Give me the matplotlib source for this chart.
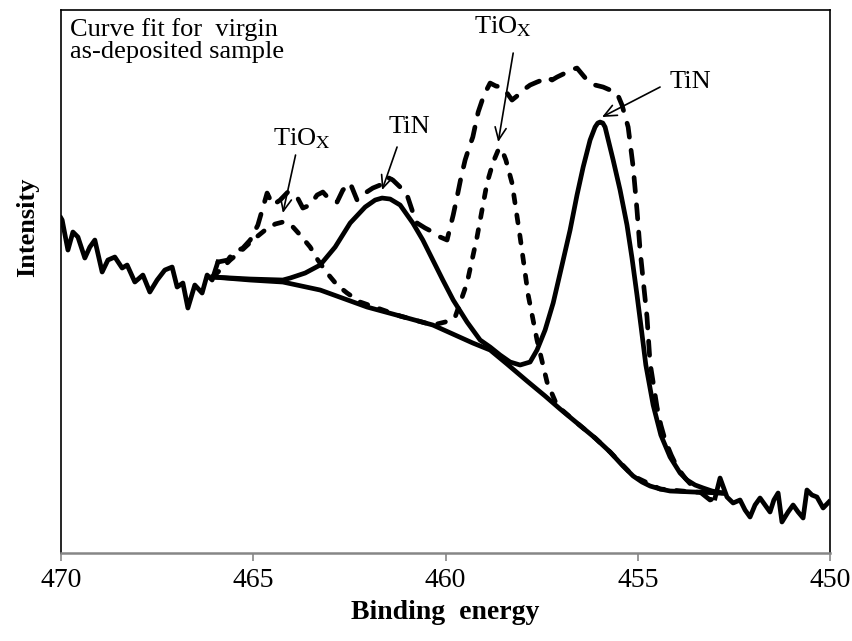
import matplotlib.pyplot as plt
import numpy as np

plt.rcParams['font.family'] = ['Liberation Serif', 'DejaVu Serif']
plt.rcParams['mathtext.fontset'] = 'stix'

# raw spectrum (binding energy in eV, intensity in arb. units)
raw_be = [470.00, 469.97, 469.82, 469.69, 469.56, 469.38, 469.25, 469.12, 468.93, 468.78,
          468.60, 468.41, 468.28, 468.08, 467.87, 467.69, 467.50, 467.30, 467.11, 466.98,
          466.83, 466.70, 466.52, 466.33, 466.20, 466.07, 465.92,
          465.66, 465.53, 465.27, 465.08, 464.88, 464.64, 464.49, 464.30, 464.10, 463.86,
          463.71, 463.52, 463.34, 463.19, 463.00, 462.82, 462.67, 462.48, 462.30, 462.09,
          461.89, 461.70, 461.52, 461.37, 461.18, 461.00, 460.87, 460.74, 460.53, 460.33,
          460.14, 459.96, 459.80, 459.70, 459.60, 459.49, 459.39, 459.29, 459.15, 459.00,
          458.84, 458.69, 458.53, 458.40, 458.27, 458.11, 457.98, 457.80, 457.62, 457.49,
          457.36, 457.23, 457.10, 456.94, 456.76, 456.58, 456.45, 456.32, 456.11, 455.90,
          455.72, 455.54, 455.41, 455.25, 455.12, 455.02, 454.94, 454.86, 454.76, 454.68,
          454.63, 454.50, 454.40, 454.29, 454.13, 453.98, 453.77, 453.56, 453.38, 453.12,
          452.99,
          452.86, 452.68, 452.52, 452.34, 452.21, 452.08, 451.95, 451.82, 451.69, 451.56,
          451.46, 451.35, 451.25, 451.09, 450.96, 450.83, 450.70, 450.60, 450.47, 450.34,
          450.18, 450.03]
raw_int = [335, 333, 303, 321, 316, 295, 306, 313, 281, 293,
           296, 285, 288, 271, 278, 261, 273, 283, 286, 266,
           270, 245, 268, 260, 278, 273, 291,
           293, 300, 305, 313, 328, 360, 348, 353, 361, 356,
           345, 348, 358, 361, 353, 351, 363, 370, 353, 360,
           365, 368, 376, 373, 366, 358, 343, 330, 325, 321,
           316, 313, 338, 356, 375, 393, 405, 416, 441, 458,
           470, 467, 466, 460, 453, 458, 463, 468, 471, 473,
           476, 473, 476, 479, 483, 485, 479, 473, 468, 466,
           463, 460, 448, 426, 386, 343, 303, 273, 236, 190,
           178, 146, 128, 113, 98, 86, 75, 66, 61, 53,
           55,
           75, 56, 50, 53, 43, 36, 48, 55, 48, 41,
           53, 60, 31, 41, 48, 41, 35, 63, 58, 56,
           45, 51]

# Shirley-type background
bg_be = [466.05, 465.08, 464.23, 463.26, 462.04, 461.18, 460.33, 459.29, 458.84, 458.40,
         457.88, 457.41, 457.02, 456.58, 456.11, 455.72, 455.41, 455.12, 454.89, 454.68,
         454.42, 454.16, 453.56, 452.81]
bg_int = [276, 273, 271, 263, 246, 237, 228, 210, 203, 189,
          172, 157, 144, 130, 115, 101, 88, 77, 71, 67,
          64, 62, 61, 60]

# TiN component (2p3/2 + 2p1/2) on background
tin_be = [466.05, 465.08, 464.23, 464.04, 463.65, 463.26, 462.87, 462.48, 462.09, 461.83,
          461.65, 461.44, 461.18, 460.85, 460.59, 460.33, 460.07, 459.80, 459.44, 459.10,
          458.84, 458.58, 458.32, 458.06, 457.80, 457.62, 457.41, 457.20, 456.97, 456.76,
          456.58, 456.42, 456.24, 456.11, 456.04, 455.98, 455.91, 455.85, 455.64, 455.46,
          455.28, 455.15, 455.02, 454.91, 454.79, 454.60, 454.40, 454.16, 453.90, 453.72,
          453.51, 453.30, 453.07, 452.81]
tin_int = [276, 274, 273, 275, 280, 288, 306, 330, 346, 353,
           355, 354, 348, 330, 313, 293, 273, 253, 231, 213,
           206, 198, 191, 188, 191, 203, 223, 250, 288, 323,
           358, 386, 413, 426, 430, 431, 430, 426, 393, 363,
           328, 295, 258, 225, 188, 148, 118, 96, 80, 73,
           68, 65, 62, 60]

# TiOx component (2p3/2 + 2p1/2) on background
tiox_be = [466.05, 465.81, 465.60, 465.29, 465.01, 464.69, 464.43, 464.23, 463.99, 463.78,
           463.52, 463.32, 463.08, 462.82, 462.56, 462.22, 461.70, 461.18, 460.33, 460.01,
           459.75, 459.44, 459.18, 458.92, 458.76, 458.64, 458.58, 458.52, 458.43, 458.27,
           458.06, 457.85, 457.62, 457.36, 457.15, 456.94, 456.58, 456.11, 455.72, 455.12,
           454.42, 453.56, 452.81]
tiox_int = [276, 285, 293, 303, 313, 323, 329, 331, 327, 318,
            306, 293, 280, 268, 260, 251, 244, 237, 228, 231,
            236, 270, 316, 370, 391, 402, 405, 402, 393, 370,
            316, 258, 213, 171, 152, 142, 130, 115, 101, 77,
            64, 61, 60]

fig = plt.figure(figsize=(8.52, 6.41), dpi=100)
ax = fig.add_axes([0.0716, 0.1373, 0.9026, 0.847])

be = np.array(raw_be)
inten = np.array(raw_int)
left = be >= 465.92
mid = (be <= 465.92) & (be >= 452.99)
right = be <= 452.99

lw = 3.4
ax.plot(be[left], inten[left], color='black', lw=lw, solid_joinstyle='round')
ax.plot(be[mid], inten[mid], color='black', lw=lw, linestyle=(0, (3.0, 2.8)),
        dash_capstyle='round', dash_joinstyle='round')
ax.plot(be[right], inten[right], color='black', lw=lw, solid_joinstyle='round')

ax.plot(bg_be, bg_int, color='black', lw=lw, solid_joinstyle='round')
ax.plot(tin_be, tin_int, color='black', lw=lw, solid_joinstyle='round')
ax.plot(tiox_be, tiox_int, color='black', lw=lw, linestyle=(0, (1.7, 2.6)),
        dash_capstyle='round', dash_joinstyle='round')

ax.set_xlim(470, 450)
ax.set_ylim(0, 543)
ax.set_xticks([470, 465, 460, 455, 450])
ax.set_yticks([])
ax.tick_params(axis='x', direction='out', length=6, width=1.2, color='#868686',
               labelsize=20, pad=5)
for s in ['left', 'right', 'top']:
    ax.spines[s].set_color('black')
    ax.spines[s].set_linewidth(1.2)
ax.spines['bottom'].set_color('#868686')
ax.spines['bottom'].set_linewidth(1.8)

ax.set_xlabel('Binding  energy', fontsize=20, fontweight='bold', labelpad=5)
ax.set_ylabel('Intensity', fontsize=19, fontweight='bold', va='center')
ax.yaxis.set_label_coords(-0.043, 0.60)

ax.text(0.012, 0.985, 'Curve fit for  virgin\nas-deposited sample', transform=ax.transAxes,
        ha='left', va='top', fontsize=19, linespacing=1.0)

# peak labels with arrows
arrow = dict(arrowstyle='->,head_length=0.9,head_width=0.4', color='black', lw=1.2,
             shrinkA=0, shrinkB=0)
ax.annotate('', xy=(464.23, 340), xytext=(463.90, 398), arrowprops=arrow)
ax.text(463.73, 408, r'TiO$_\mathrm{X}$', fontsize=19, ha='center', va='baseline')
ax.annotate('', xy=(461.65, 363), xytext=(461.26, 406), arrowprops=arrow)
ax.text(460.94, 420, 'TiN', fontsize=19, ha='center', va='baseline')
ax.annotate('', xy=(458.63, 411), xytext=(458.24, 500), arrowprops=arrow)
ax.text(458.50, 520, r'TiO$_\mathrm{X}$', fontsize=19, ha='center', va='baseline')
ax.annotate('', xy=(455.93, 436), xytext=(454.42, 466), arrowprops=arrow)
ax.text(453.64, 465, 'TiN', fontsize=19, ha='center', va='baseline')

fig.savefig('out.png', dpi=100)
